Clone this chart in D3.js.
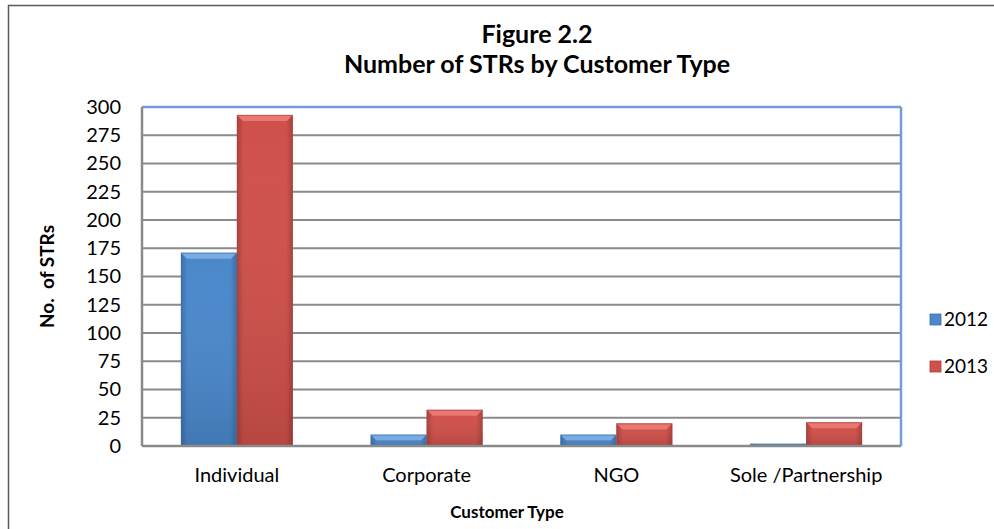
<!DOCTYPE html>
<html>
<head>
<meta charset="utf-8">
<script src="https://cdn.jsdelivr.net/npm/d3@7"></script>
<style>
  body { margin: 0; background: #fff; }
  text { font-family: Lato, "Open Sans", sans-serif; fill: #000; }
</style>
</head>
<body>
<div id="chart"></div>
<script>
const categories = ['Individual', 'Corporate', 'NGO', 'Sole /Partnership'];
const years = ['2012', '2013'];
const values2012 = [171, 10, 10, 2];
const values2013 = [293, 32, 20, 21];
const yTicks = d3.range(0, 301, 25);

const width = 994;
const height = 529;
const margin = {top: 107, right: 93, bottom: 83, left: 142};

const svg = d3.select('#chart').append('svg')
  .attr('width', width)
  .attr('height', height);

// outer chart frame
svg.append('rect')
  .attr('x', 8.5).attr('y', 5.5)
  .attr('width', width + 10).attr('height', height + 10)
  .attr('fill', 'none')
  .attr('stroke', '#5a5a5a')
  .attr('stroke-width', 1.5);

const x0 = d3.scaleBand()
  .domain(categories)
  .range([margin.left, width - margin.right])
  .paddingInner(0.41)
  .paddingOuter(0.205);

const x1 = d3.scaleBand()
  .domain(years)
  .range([0, x0.bandwidth()]);

const y = d3.scaleLinear()
  .domain([0, 300])
  .range([height - margin.bottom, margin.top]);

const colors = {
  '2012': {base: '#4a88cb', light: '#82b3e6', dark: '#3a6ea8'},
  '2013': {base: '#d0504a', light: '#ec7f78', dark: '#a8403c'},
};

const defs = svg.append('defs');
years.forEach(yr => {
  const g = defs.append('linearGradient')
    .attr('id', 'grad' + yr)
    .attr('x1', 0).attr('y1', 0).attr('x2', 1).attr('y2', 0);
  g.append('stop').attr('offset', '0%').attr('stop-color', colors[yr].dark);
  g.append('stop').attr('offset', '12%').attr('stop-color', colors[yr].base);
  g.append('stop').attr('offset', '88%').attr('stop-color', colors[yr].base);
  g.append('stop').attr('offset', '100%').attr('stop-color', colors[yr].dark);
  const v = defs.append('linearGradient')
    .attr('id', 'vgrad' + yr)
    .attr('x1', 0).attr('y1', 0).attr('x2', 0).attr('y2', 1);
  v.append('stop').attr('offset', '0%').attr('stop-color', '#fff').attr('stop-opacity', 0.0);
  v.append('stop').attr('offset', '100%').attr('stop-color', '#000').attr('stop-opacity', 0.12);
});

// gridlines
svg.append('g')
  .selectAll('line')
  .data(yTicks.slice(1, -1))
  .join('line')
    .attr('x1', margin.left)
    .attr('x2', width - margin.right)
    .attr('y1', d => y(d))
    .attr('y2', d => y(d))
    .attr('stroke', '#8a8a8a')
    .attr('stroke-width', 2);

// plot frame: blue top/right, grey left/bottom
svg.append('line')
  .attr('x1', margin.left).attr('x2', width - margin.right)
  .attr('y1', y(300)).attr('y2', y(300))
  .attr('stroke', '#6f9fd6').attr('stroke-width', 2.5);
svg.append('line')
  .attr('x1', width - margin.right).attr('x2', width - margin.right)
  .attr('y1', y(300)).attr('y2', y(0))
  .attr('stroke', '#6f9fd6').attr('stroke-width', 2.5);

// bars
const data = categories.map((c, i) => ({cat: c, vals: [
  {year: '2012', value: values2012[i]},
  {year: '2013', value: values2013[i]},
]}));

const groups = svg.append('g')
  .selectAll('g')
  .data(data)
  .join('g')
    .attr('transform', d => `translate(${x0(d.cat)},0)`);

const bars = groups.selectAll('g')
  .data(d => d.vals)
  .join('g');

bars.append('rect')
  .attr('x', d => x1(d.year))
  .attr('y', d => y(d.value))
  .attr('width', x1.bandwidth())
  .attr('height', d => y(0) - y(d.value))
  .attr('fill', d => `url(#grad${d.year})`);

bars.append('rect')
  .attr('x', d => x1(d.year))
  .attr('y', d => y(d.value))
  .attr('width', x1.bandwidth())
  .attr('height', d => y(0) - y(d.value))
  .attr('fill', d => `url(#vgrad${d.year})`);

// top bevel
bars.filter(d => y(0) - y(d.value) > 4)
  .append('path')
  .attr('d', d => {
    const bx = x1(d.year), by = y(d.value), w = x1.bandwidth();
    const b = Math.min(6, (y(0) - y(d.value)) / 2);
    return `M${bx},${by}L${bx + w},${by}L${bx + w - b},${by + b}L${bx + b},${by + b}Z`;
  })
  .attr('fill', d => colors[d.year].light)
  .attr('opacity', 0.85);

bars.append('rect')
  .attr('x', d => x1(d.year) + 0.5)
  .attr('y', d => y(d.value) + 0.5)
  .attr('width', x1.bandwidth() - 1)
  .attr('height', d => Math.max(0, y(0) - y(d.value) - 1))
  .attr('fill', 'none')
  .attr('stroke', d => colors[d.year].dark)
  .attr('stroke-opacity', 0.6);

// left & bottom axis lines (grey)
svg.append('line')
  .attr('x1', margin.left).attr('x2', margin.left)
  .attr('y1', y(300)).attr('y2', y(0))
  .attr('stroke', '#8a8a8a').attr('stroke-width', 2.5);
svg.append('line')
  .attr('x1', margin.left).attr('x2', width - margin.right)
  .attr('y1', y(0)).attr('y2', y(0))
  .attr('stroke', '#8a8a8a').attr('stroke-width', 2.5);

// y axis labels
const yAxis = svg.append('g')
  .attr('transform', `translate(${margin.left - 21},0)`)
  .call(d3.axisLeft(y).tickValues(yTicks).tickSize(0).tickPadding(0));
yAxis.select('.domain').remove();
yAxis.selectAll('text')
  .style('font-family', 'Lato, "Open Sans", sans-serif')
  .style('font-size', '20px')
  .attr('fill', '#000');

// x axis labels
const xAxis = svg.append('g')
  .attr('transform', `translate(0,${y(0)})`)
  .call(d3.axisBottom(x0).tickSize(0).tickPadding(22));
xAxis.select('.domain').remove();
xAxis.selectAll('text')
  .style('font-family', 'Lato, "Open Sans", sans-serif')
  .style('font-size', '20px')
  .attr('fill', '#000');

// titles
svg.append('text')
  .attr('x', 537).attr('y', 43)
  .attr('text-anchor', 'middle')
  .style('font-size', '25px').style('font-weight', 'bold')
  .text('Figure 2.2');
svg.append('text')
  .attr('x', 537).attr('y', 73)
  .attr('text-anchor', 'middle')
  .style('font-size', '25px').style('font-weight', 'bold')
  .text('Number of STRs by Customer Type');

svg.append('text')
  .attr('x', 507).attr('y', 518)
  .attr('text-anchor', 'middle')
  .style('font-size', '17px').style('font-weight', 'bold')
  .text('Customer Type');

svg.append('text')
  .attr('transform', `translate(54,${(y(0) + y(300)) / 2}) rotate(-90)`)
  .attr('text-anchor', 'middle')
  .style('font-size', '19px').style('font-weight', 'bold')
  .style('white-space', 'pre')
  .text('No.  of STRs');

// legend
const legend = svg.append('g')
  .selectAll('g')
  .data(years)
  .join('g')
    .attr('transform', (d, i) => `translate(930,${314 + i * 47})`);
legend.append('rect')
  .attr('width', 11).attr('height', 11)
  .attr('fill', d => colors[d].base)
  .attr('stroke', d => colors[d].dark).attr('stroke-width', 0.8);
legend.append('text')
  .attr('x', 14).attr('y', 12)
  .style('font-size', '19px')
  .text(d => d);
</script>
</body>
</html>
